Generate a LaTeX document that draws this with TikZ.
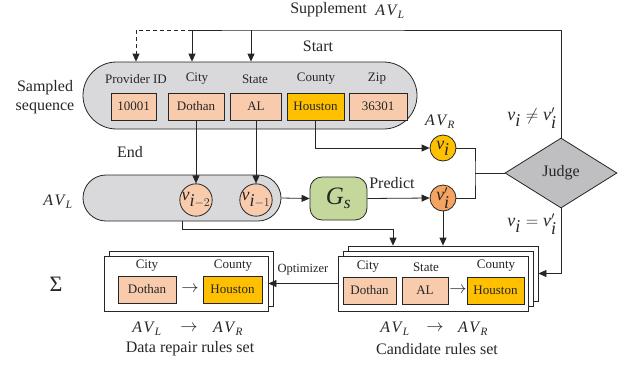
\documentclass[tikz,border=0pt]{standalone}
\usepackage{fontspec}
\setmainfont{Liberation Serif}
\usetikzlibrary{arrows.meta,shapes.geometric}
\definecolor{lor}{HTML}{F8CBAD}
\definecolor{gold}{HTML}{FFC000}
\definecolor{dor}{HTML}{F4A460}
\definecolor{gry}{HTML}{D9D9DB}
\definecolor{grn}{HTML}{C4D89C}
\definecolor{dgr}{HTML}{BFBFC1}
\definecolor{ln}{HTML}{262626}
\newcommand{\avl}{\textit{A\kern1.5pt V}\textsubscript{\textit{L}}}
\newcommand{\avr}{\textit{A\kern1.5pt V}\textsubscript{\textit{R}}}
\tikzset{
  every node/.style={font=\fontsize{16}{18}\selectfont, text=ln},
  arr/.style={-{Triangle[length=8pt,width=7pt]}},
  ln/.style={draw=ln, line width=0.8pt},
  valbox/.style={ln, fill=lor, minimum height=27pt, inner sep=0pt, font=\fontsize{13}{15}\selectfont},
  small/.style={font=\fontsize{13}{15}\selectfont},
  circ/.style={ln, circle, minimum size=26pt, inner sep=0pt, font=\fontsize{18}{20}\selectfont},
  card/.style={ln, fill=white, minimum height=55pt, inner sep=0pt},
}
\begin{document}
\begin{tikzpicture}[x=1pt,y=-1pt, line width=0.8pt, draw=ln]
\useasboundingbox (0,0) rectangle (621,365);
% sampled sequence
\node[ln, fill=gry, rounded corners=33.5pt, minimum width=334pt, minimum height=67pt, inner sep=0pt] (seq) at (250,95.5) {};
\node[small] (lp) at (136,79) {Provider ID};
\node[small] (lc) at (197,79) {City};
\node[small] (ls) at (255,79) {State};
\node[small] (lco) at (316,79) {County};
\node[small] (lz) at (377,79) {Zip};
\node[valbox, minimum width=45pt] (b1) at (133.5,106.5) {10001};
\node[valbox, minimum width=56pt] (b2) at (196,106.5) {Dothan};
\node[valbox, minimum width=51pt] (b3) at (256,106.5) {AL};
\node[valbox, fill=gold, minimum width=57pt] (b4) at (315.5,106.5) {Houston};
\node[valbox, minimum width=58pt] (b5) at (378,106.5) {36301};
\node[align=center, inner sep=0pt] (lsq) at (45,97) {Sampled\\[1.5pt]sequence};
\node (lstart) at (318,46) {Start};
\node (lsup) at (328.5,10) {Supplement};
\node (lsupav) at (390,12) {\avl};
% AV_L oval
\node[ln, fill=gry, rounded corners=23pt, minimum width=198pt, minimum height=46pt, inner sep=0pt] (avl) at (182,198) {};
\node (lend) at (130,152) {End};
\node (lavl) at (58,202) {\avl};
\node[circ, fill=lor] (v2) at (196,200) {$\textit{v}_{\textit{i}-2}$};
\node[circ, fill=lor] (v1) at (256,200) {$\textit{v}_{\textit{i}-1}$};
% G_s
\node[ln, fill=grn, rounded corners=12pt, minimum width=57pt, minimum height=43pt, inner sep=0pt, font=\fontsize{25}{27}\selectfont] (gs) at (338.5,198.5) {\textit{G}\textsubscript{\textit{s}}};
\node (lpred) at (392,183) {Predict};
% v_i, v_i'
\node[circ, fill=gold] (vi) at (443,148) {$\textit{v}_{\textit{i}}$};
\node[circ, fill=dor] (vp) at (443,198) {$\textit{v}'_{\textit{i}}$};
\node (lavr) at (440,122) {\avr};
\node[font=\fontsize{18}{20}\selectfont] (lne) at (532,118) {$\textit{v}_{\textit{i}}\neq\textit{v}'_{\textit{i}}$};
\node[font=\fontsize{18}{20}\selectfont] (leq) at (532,224) {$\textit{v}_{\textit{i}}=\textit{v}'_{\textit{i}}$};
% judge
\node[ln, fill=dgr, diamond, shape aspect=1.6, minimum width=112pt, minimum height=70pt, inner sep=0pt] (judge) at (561,173) {Judge};
% candidate rules set
\node[card, minimum width=190pt] (cb) at (443,273.5) {};
\node[card, minimum width=190pt] (cm) at (438,278.5) {};
\node[card, minimum width=190pt] (cf) at (433,283.5) {};
\node[small] (cl1) at (368,267) {City};
\node[small] (cl2) at (426,267) {State};
\node[small] (cl3) at (496,266) {County};
\node[valbox, minimum width=53pt] (cv1) at (369.5,290.5) {Dothan};
\node[valbox, minimum width=46pt] (cv2) at (425,290.5) {AL};
\node (carr) at (458,290) {$\rightarrow$};
\node[valbox, fill=gold, minimum width=57pt] (cv3) at (495.5,290.5) {Houston};
\node (cavl) at (395,329) {\avl};
\node (cto) at (435,328) {$\rightarrow$};
\node (cavr) at (473,329) {\avr};
\node (ctitle) at (437,349) {Candidate rules set};
% data repair rules set
\node[card, minimum width=164pt] (db) at (191,278.5) {};
\node[card, minimum width=164pt] (df) at (186,283.5) {};
\node[small] (dl1) at (147,266) {City};
\node[small] (dl2) at (233,266) {County};
\node[valbox, minimum width=58pt] (dv1) at (147,289.5) {Dothan};
\node (darr) at (190,289) {$\rightarrow$};
\node[valbox, fill=gold, minimum width=59pt] (dv2) at (232.5,289.5) {Houston};
\node (davl) at (147,329) {\avl};
\node (dto) at (189,328) {$\rightarrow$};
\node (davr) at (228,329) {\avr};
\node (dtitle) at (190,349) {Data repair rules set};
\node[font=\fontsize{22}{24}\selectfont] (sig) at (56,284) {Σ};
\node[font=\fontsize{12.5}{14}\selectfont] (lopt) at (303,270) {Optimizer};
% coordinates
\coordinate (tR) at (561,30);
\coordinate (tS) at (251,30);
\coordinate (tC) at (192,30);
\coordinate (tP) at (136,30);
\coordinate (jm) at (475,173);
\coordinate (ca) at (393,229);
% connectors
\draw[ln] (judge.north) -- (tR) -- (tS) -- (tC);
\draw[ln, arr] (tS) -- (tS|-seq.north);
\draw[ln, arr] (tC) -- (tC|-seq.north);
\draw[ln, dashed, dash pattern=on 4pt off 3pt] (tC) -- (tP);
\draw[ln, dashed, dash pattern=on 4pt off 3pt, arr] (tP) -- (tP|-seq.north);
\draw[ln, arr] (b2.south) -- (v2.north);
\draw[ln, arr] (b3.south) -- (v1.north);
\draw[ln, arr] (b4.south) |- (vi.west);
\draw[ln, arr] (avl.east) -- (gs.west);
\draw[ln, arr] (gs.east) -- (vp.west);
\draw[ln] (vi.east) -| (jm) |- (vp.east);
\draw[ln] (jm) -- (judge.west);
\draw[ln, arr] (vp.south) -- (vp.south|-cb.north);
\draw[ln, arr] (avl.south) |- (ca) -- (ca|-cb.north);
\draw[ln, arr] (judge.south) |- (cb.east);
\draw[ln, arr] (cf.west) -- (df.east);
\end{tikzpicture}
\end{document}
